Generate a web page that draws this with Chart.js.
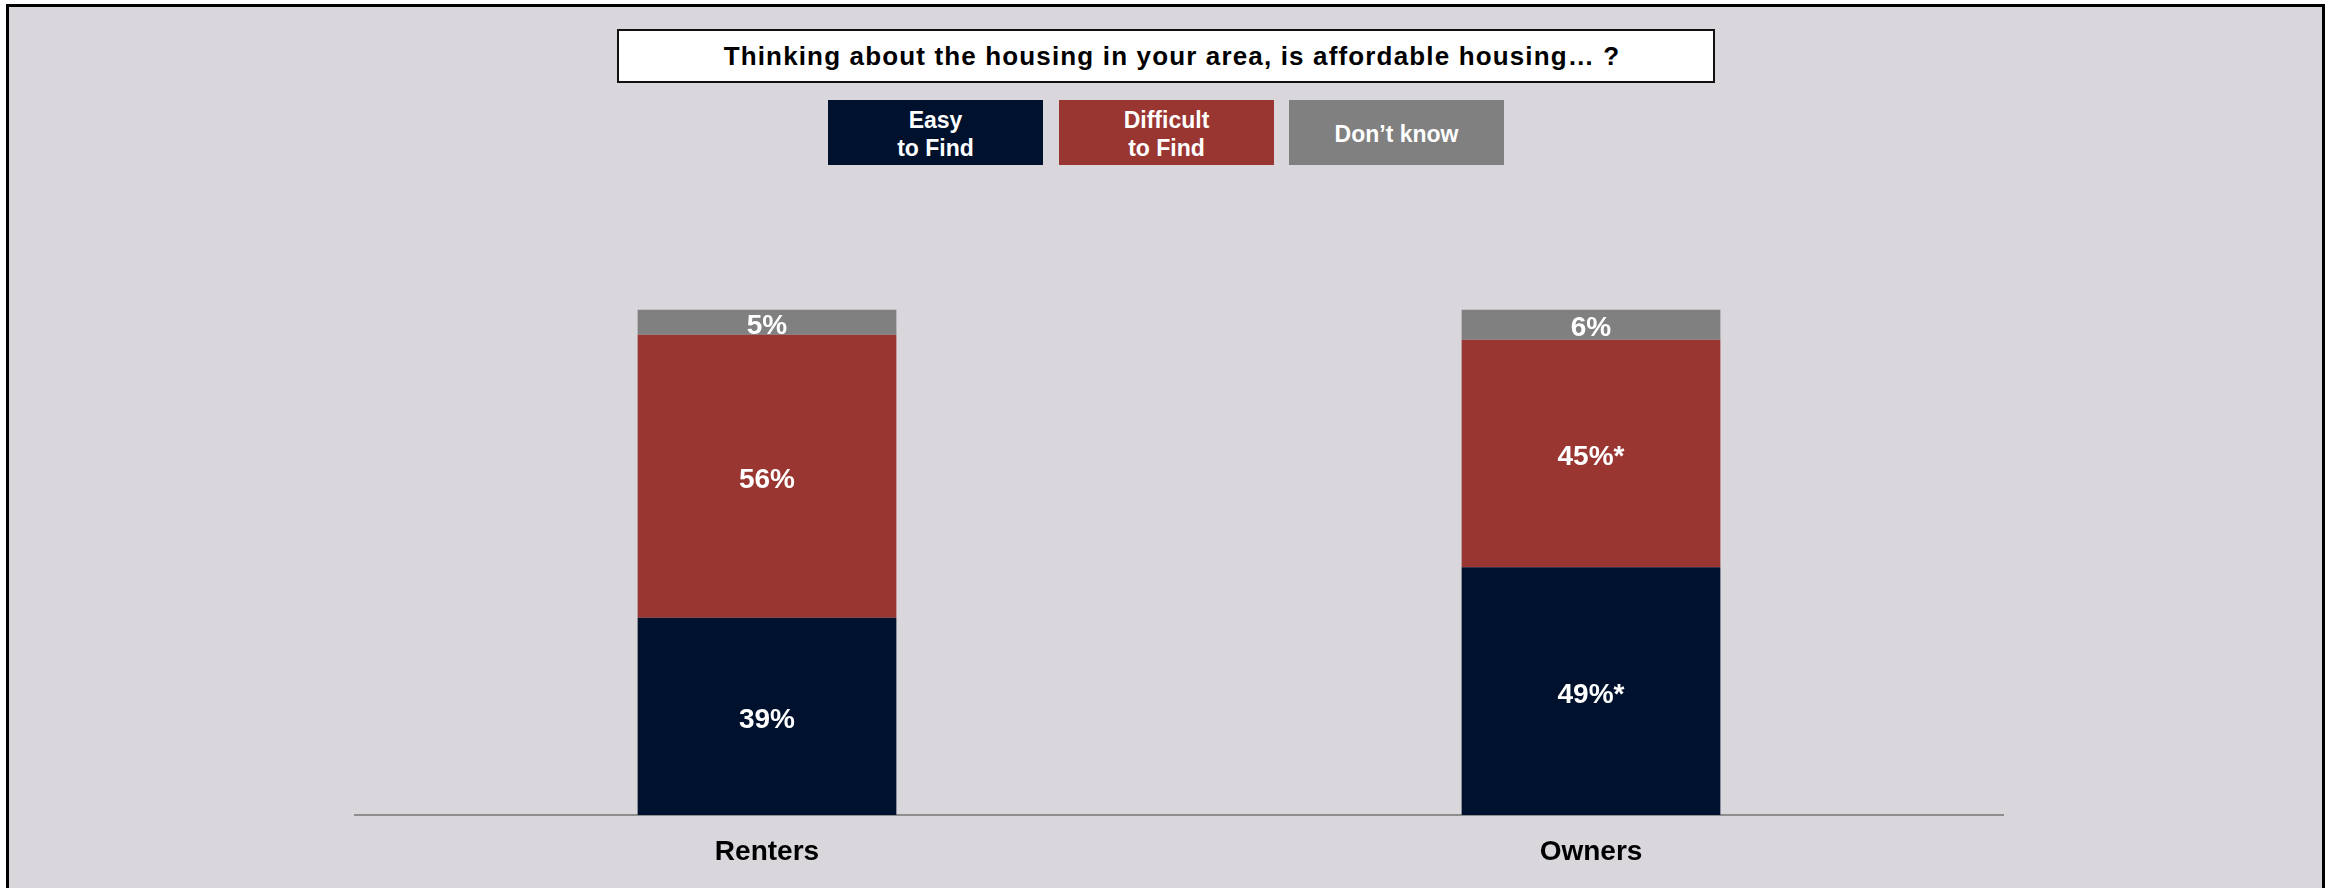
<!DOCTYPE html>
<html>
<head>
<meta charset="utf-8">
<title>Affordable housing</title>
<script src="https://cdn.jsdelivr.net/npm/chart.js@4.4.0/dist/chart.umd.min.js"></script>
<style>
    body { margin: 0; width: 2336px; height: 888px; overflow: hidden; background: #fff;
           font-family: Arial, "Liberation Sans", sans-serif; }
    #frame { position: absolute; left: 6px; top: 4px; width: 2319px; height: 920px;
             box-sizing: border-box; border: 3px solid #000; background: #d9d6dc; }
    #question { position: absolute; left: 617px; top: 29px; width: 1098px; height: 54px;
                box-sizing: border-box; border: 2px solid #111; background: #fff;
                padding-left: 12px;
                font-weight: bold; font-size: 26px; letter-spacing: 1.15px; line-height: 51px;
                text-align: center; color: #000; }
    .key { position: absolute; top: 100px; height: 65px; width: 215px; display: flex;
           box-sizing: border-box; padding-top: 2px;
           align-items: center; justify-content: center; text-align: center; color: #fff;
           font-weight: bold; font-size: 23px; line-height: 28px; white-space: pre-line; }
    #chart { position: absolute; left: 0; top: 0; }
</style>
</head>
<body>
<div id="frame"></div>
<div id="question"></div>
<div id="keys"></div>
<canvas id="chart" width="2336" height="888"></canvas>
<script>
const questionText = 'Thinking about the housing in your area, is affordable housing\u2026 ?';
const categories = ['Renters', 'Owners'];
const seriesNames = ['Easy\nto Find', 'Difficult\nto Find', 'Don\u2019t know'];
const seriesColors = ['#00112e', '#9a3632', '#808080'];
const easyToFind = [39, 49];
const difficultToFind = [56, 45];
const dontKnow = [5, 6];
// '*' marks a significant difference between the groups
const easyMarks = ['', '*'];
const difficultMarks = ['', '*'];
const dontKnowMarks = ['', ''];

document.getElementById('question').textContent = questionText;

// key boxes above the chart
const keyLefts = [828, 1059, 1289];
const keys = document.getElementById('keys');
seriesNames.forEach((name, i) => {
    const box = document.createElement('div');
    box.className = 'key';
    box.style.left = keyLefts[i] + 'px';
    box.style.background = seriesColors[i];
    box.textContent = name;
    keys.appendChild(box);
});

const segmentLabels = {
    id: 'segmentLabels',
    afterDatasetsDraw(chart) {
        const ctx = chart.ctx;
        ctx.save();
        ctx.fillStyle = '#fff';
        ctx.font = 'bold 28px Arial, "Liberation Sans", sans-serif';
        ctx.textAlign = 'center';
        ctx.textBaseline = 'middle';
        chart.data.datasets.forEach((ds, di) => {
            const meta = chart.getDatasetMeta(di);
            meta.data.forEach((bar, i) => {
                const yMid = (bar.y + bar.base) / 2;
                ctx.fillText(ds.data[i] + '%' + ds.marks[i], bar.x, yMid + 4);
            });
        });
        ctx.restore();
    }
};

const datasets = [
    { label: seriesNames[0], data: easyToFind, marks: easyMarks, backgroundColor: seriesColors[0] },
    { label: seriesNames[1], data: difficultToFind, marks: difficultMarks, backgroundColor: seriesColors[1] },
    { label: seriesNames[2], data: dontKnow, marks: dontKnowMarks, backgroundColor: seriesColors[2] }
].map(ds => Object.assign(ds, { borderWidth: 0, barPercentage: 0.314, categoryPercentage: 1 }));

new Chart(document.getElementById('chart'), {
    type: 'bar',
    data: { labels: categories, datasets: datasets },
    options: {
        responsive: false,
        animation: false,
        devicePixelRatio: 1,
        layout: { padding: { left: 355, right: 333, top: 309.5, bottom: 0 } },
        scales: {
            x: {
                stacked: true,
                grid: { display: false, drawTicks: false },
                border: { display: true, color: '#8e8e8e', width: 2 },
                ticks: {
                    color: '#000',
                    padding: 20,
                    font: { family: 'Arial, "Liberation Sans", sans-serif', size: 28, weight: 'bold' }
                },
                afterFit(scale) { scale.height = 73; }
            },
            y: {
                stacked: true,
                display: false,
                min: 0,
                max: 100
            }
        },
        plugins: {
            legend: { display: false },
            tooltip: { enabled: false }
        }
    },
    plugins: [segmentLabels]
});
</script>
</body>
</html>
